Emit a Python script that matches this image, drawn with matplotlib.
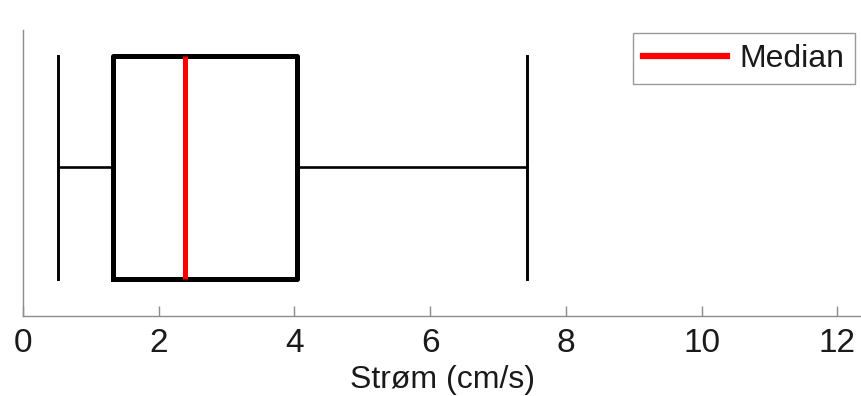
import matplotlib
matplotlib.use("Agg")
import matplotlib.pyplot as plt
from matplotlib.lines import Line2D

plt.rcParams['font.family'] = ['Liberation Sans', 'DejaVu Sans']

# Box statistics (cm/s)
whisker_low = 0.52
q1 = 1.33
median = 2.39
q3 = 4.04
whisker_high = 7.43
xticks = [0, 2, 4, 6, 8, 10, 12]
xlabel = "Strøm (cm/s)"
legend_label = "Median"

fig = plt.figure(figsize=(8.61, 3.96), dpi=100)
ax = fig.add_axes([23/861, 1-316/396, 1-23/861, (316-30)/396])

stats = [dict(whislo=whisker_low, q1=q1, med=median, q3=q3, whishi=whisker_high, fliers=[])]
ax.bxp(stats, positions=[0.52], widths=0.78, capwidths=0.78, vert=False,
       showfliers=False,
       boxprops=dict(color='black', linewidth=3.6),
       whiskerprops=dict(color='black', linewidth=1.9),
       capprops=dict(color='black', linewidth=2.1),
       medianprops=dict(color='#ff0000', linewidth=3.6, solid_capstyle='butt'))

ax.set_xlim(0, 12.35)
ax.set_ylim(0, 1)
ax.set_xticks(xticks)
ax.set_xticklabels([str(t) for t in xticks])
ax.set_yticks([])
ax.tick_params(axis='x', direction='in', length=7, width=1, color='#8c8c8c',
               labelsize=24, pad=9, labelcolor='#1a1a1a')
for s in ['top', 'right']:
    ax.spines[s].set_visible(False)
for s in ['left', 'bottom']:
    ax.spines[s].set_color('#8c8c8c')
    ax.spines[s].set_linewidth(1.0)

ax.set_xlabel(xlabel, fontsize=23, labelpad=4, color='#1a1a1a')

handle = Line2D([], [], color='#ff0000', linewidth=4.5)
leg = ax.legend([handle], [legend_label], loc='upper right', bbox_to_anchor=(0.9965, 1.0),
                fontsize=23, frameon=True, fancybox=False, handlelength=2.6,
                borderpad=0.33, handletextpad=0.4, borderaxespad=0.1)
leg.get_frame().set_edgecolor('#808080')
leg.get_frame().set_linewidth(1.0)
for t in leg.get_texts():
    t.set_color('#1a1a1a')

fig.savefig("out.png", dpi=100)
